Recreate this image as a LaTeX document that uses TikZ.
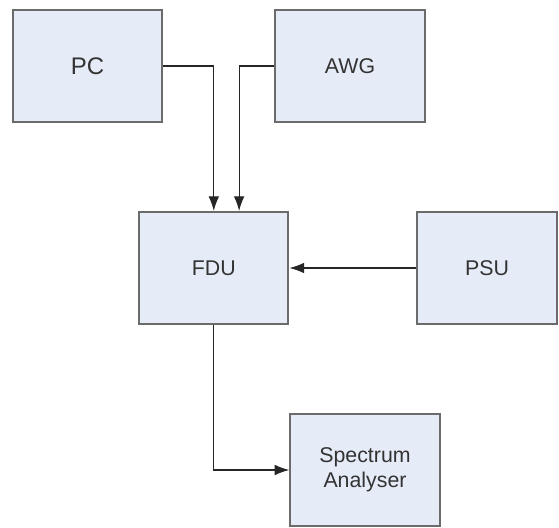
\documentclass[tikz,border=0pt]{standalone}
\usepackage{fontspec}
\setmainfont{Liberation Sans}
\usetikzlibrary{arrows.meta}
\definecolor{boxfill}{HTML}{E6ECF7}
\definecolor{boxline}{HTML}{6B6B6B}
\definecolor{boxtext}{HTML}{333333}
\tikzset{
  unit/.style={draw=boxline,fill=boxfill,line width=1.5pt,text=boxtext,
    minimum width=112pt,minimum height=84pt,inner sep=0pt,align=center,
    font=\fontsize{16}{19}\selectfont},
  link/.style={-{Latex[length=11pt,width=8pt]},line width=0.9pt,black!85}
}
\begin{document}
\begin{tikzpicture}[x=0.75pt,y=-0.75pt]
  \useasboundingbox (0,0) rectangle (559,527);
  \node[unit,font=\fontsize{18}{21}\selectfont] (pc) at (87.5,66) {PC};
  \node[unit] (awg) at (350,66) {AWG};
  \node[unit] (fdu) at (213.8,268) {FDU};
  \node[unit,minimum width=105pt] (psu) at (487,268) {PSU};
  \node[unit] (sa) at (365,470) {Spectrum\\Analyser};
  \draw[link] (pc.east) -| (fdu.north);
  \draw[link] (awg.west) -| ([xshift=19pt]fdu.north);
  \draw[link] (psu.west) -- (fdu.east);
  \draw[link] (fdu.south) |- (sa.west);
\end{tikzpicture}
\end{document}
